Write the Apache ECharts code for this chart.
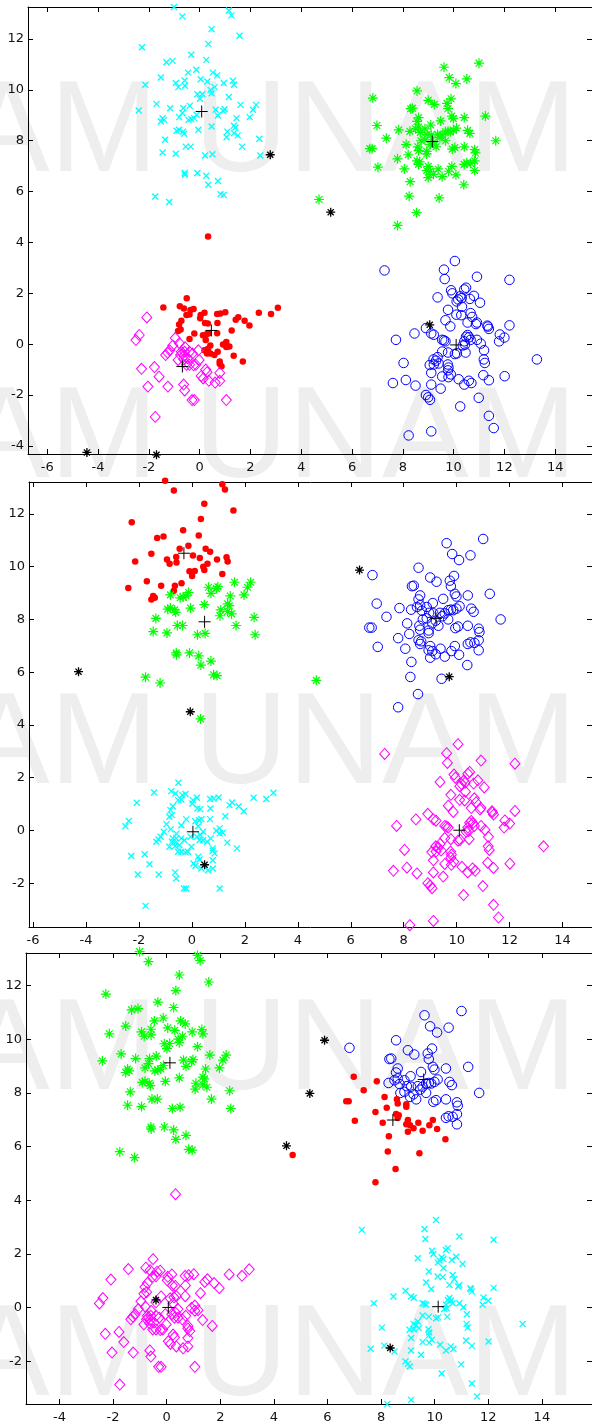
<!DOCTYPE html>
<html><head><meta charset="utf-8">
<script src="https://cdn.jsdelivr.net/npm/echarts@6/dist/echarts.min.js"></script>
<style>html,body{margin:0;padding:0;background:#fff}#c{width:592px;height:1424px}</style>
</head><body><div id="c"></div>
<script>
// ---- data: the same point cloud, grouped into pieces so each panel's clustering can be shown ----
const A_red = [[-1.43,1.44],[-0.51,1.81],[-0.78,1.49],[-0.62,1.40],[-0.36,1.34],[-0.24,1.38],[-0.52,1.15],[-0.40,1.17],[-0.72,0.92],[-0.81,0.77],[-0.75,0.58],[-0.85,0.52],[-0.21,0.42],[-0.40,0.20],[0.04,1.15],[0.19,1.24],[0.02,1.02],[0.32,0.81],[0.21,0.83],[0.69,1.19],[0.82,1.21],[1.01,1.25],[0.70,0.83],[1.42,0.96],[1.52,1.06],[1.77,0.92],[1.96,0.73],[2.33,1.24],[2.81,1.19],[3.08,1.43],[0.69,0.43],[1.26,0.54],[0.13,0.35],[0.27,0.39],[0.36,0.43],[0.24,0.16],[1.05,0.08],[0.92,-0.01],[1.17,-0.09],[1.05,-0.11],[0.42,-0.05],[0.19,-0.24],[0.29,-0.37],[0.42,-0.37],[0.33,-0.18],[0.58,-0.43],[0.71,-0.30],[0.79,-0.68],[0.79,-0.77],[0.86,-0.87],[1.34,-0.46],[1.70,-0.68]];
const A_mag = [[-2.08,1.05],[-2.38,0.36],[-2.51,0.16],[-0.96,0.24],[-1.06,-0.05],[-1.18,-0.24],[-1.26,-0.34],[-1.34,-0.43],[-0.59,-0.30],[-0.72,-0.30],[-0.75,-0.43],[-0.62,-0.46],[-0.40,-0.30],[-0.28,-0.37],[-0.85,-0.62],[-0.63,-0.59],[-0.52,-0.81],[-0.40,-0.81],[-0.24,-0.83],[-0.15,-0.81],[-0.02,-0.62],[-0.05,-0.24],[-2.29,-0.97],[-1.78,-0.90],[-1.60,-1.28],[0.24,-1.00],[0.29,-1.10],[0.06,-1.25],[0.14,-1.35],[0.36,-1.44],[0.61,-1.51],[0.79,-1.44],[-2.04,-1.67],[-1.25,-1.67],[-0.63,-1.59],[-0.59,-1.82],[-0.30,-2.20],[-0.21,-2.20],[1.05,-2.20],[-1.75,-2.86],[0.79,-1.13],[-0.80,0.04],[-0.58,-0.12],[-0.47,-0.55]];
const B_up = [[-1.01,13.26],[-0.68,12.89],[1.15,13.12],[1.25,12.93],[0.47,12.39],[1.57,12.13],[0.34,11.81],[-2.27,11.68],[0.26,11.18],[-0.33,11.38],[-1.31,11.09],[-1.07,11.14],[-2.14,10.20],[-1.53,10.49],[-0.13,10.79],[-0.46,10.68],[0.52,10.68],[0.69,10.57],[-0.94,10.27],[-0.59,10.37],[-0.84,10.11],[-0.58,10.16],[0.04,10.42],[0.30,10.33],[1.31,10.36],[1.35,10.20],[0.95,10.27],[0.59,10.11],[0.43,10.00],[0.47,9.87],[-0.09,9.83],[0.11,9.84],[0.01,9.65],[-2.40,9.19],[-1.70,9.45],[-1.16,9.28],[-0.64,9.28],[-0.68,9.09],[-0.39,9.37],[-1.46,8.89],[-1.40,8.82],[-1.53,8.76],[1.15,9.72]];
const B_low = [[-0.81,8.93],[-0.44,8.82],[-0.33,8.85],[-0.22,8.89],[-0.12,9.02],[0.63,9.22],[0.72,8.99],[0.93,9.17],[0.98,9.24],[1.61,9.41],[1.45,8.89],[1.35,8.59],[1.41,8.52],[1.97,8.93],[2.10,9.22],[2.22,9.41],[0.47,8.56],[-0.05,8.43],[-0.91,8.39],[-0.81,8.43],[-0.65,8.36],[-0.61,8.27],[-1.36,8.04],[1.09,8.36],[1.06,8.14],[1.35,8.30],[1.50,8.21],[2.35,8.08],[1.67,7.77],[-1.46,7.54],[-0.94,7.49],[-0.55,7.77],[-0.35,7.77],[0.21,7.42],[0.50,7.47],[2.39,7.42],[-0.59,6.73],[-0.58,6.66],[-0.09,6.73],[0.26,6.62],[0.72,6.42],[0.34,6.27],[0.82,5.90],[0.95,5.87],[-1.75,5.81],[-1.20,5.59]];
const C_blue = [[11.00,11.05],[9.62,10.89],[9.83,10.48],[10.09,10.25],[10.52,10.43],[8.56,9.96],[6.82,9.68],[9.00,9.59],[9.24,9.43],[9.90,9.65],[9.74,9.47],[9.78,9.26],[8.38,9.28],[8.31,9.26],[8.62,8.91],[8.56,8.76],[9.10,8.62],[9.49,8.78],[9.93,8.97],[9.99,8.87],[10.42,8.91],[11.25,8.97],[8.28,8.37],[8.50,8.47],[8.62,8.54],[8.69,8.33],[8.87,8.47],[8.96,8.25],[8.72,8.00],[8.87,8.04],[9.12,8.23],[9.21,7.95],[9.31,7.76],[9.08,7.85],[9.37,8.25],[9.55,8.23],[9.68,8.35],[9.78,8.37],[9.87,8.35],[9.99,8.41],[10.11,8.50],[10.55,8.41],[10.64,8.29],[9.68,8.00],[9.95,7.67],[10.05,7.73],[10.42,7.76],[10.83,7.65],[10.86,7.52],[10.42,7.07],[10.52,7.13],[10.67,7.11],[10.83,7.21],[10.83,6.83],[11.66,8.00],[9.46,8.12]];
const C_red = [[6.98,8.60],[7.35,8.10],[7.84,8.43],[6.70,7.69],[6.79,7.69],[7.02,6.96],[7.79,7.29],[8.13,7.85],[8.21,7.45],[8.06,6.89],[8.29,6.39],[8.25,5.82],[8.54,5.17],[8.59,7.76],[8.62,7.61],[8.56,7.21],[8.66,7.17],[8.62,7.07],[8.94,7.58],[8.94,7.48],[9.00,6.99],[8.94,6.83],[9.08,6.80],[9.00,6.55],[9.21,6.68],[9.39,6.89],[9.55,6.59],[9.80,6.80],[9.93,6.99],[10.09,6.66],[9.43,5.75],[10.40,6.27],[7.79,4.67]];
const D_all = [[10.05,3.27],[7.28,2.90],[9.62,2.93],[9.65,2.56],[10.92,2.65],[12.20,2.53],[9.90,2.12],[9.95,2.00],[10.42,2.15],[10.49,2.22],[10.26,1.88],[10.32,1.81],[10.80,1.90],[9.37,1.84],[10.18,1.76],[10.12,1.68],[10.64,1.78],[11.04,1.63],[10.33,1.47],[9.78,1.35],[10.11,1.16],[10.30,1.14],[10.67,1.22],[10.73,1.07],[9.68,0.94],[9.87,0.70],[10.55,0.85],[10.88,0.79],[10.92,0.85],[11.33,0.73],[11.39,0.60],[11.35,0.69],[12.20,0.74],[8.91,0.63],[9.12,0.42],[9.22,0.37],[8.46,0.42],[11.82,0.38],[11.79,0.11],[12.00,0.26],[7.73,0.17],[9.55,0.17],[9.68,0.11],[9.62,0.15],[10.49,0.29],[10.61,0.27],[10.55,0.36],[10.42,0.11],[10.45,-0.02],[10.67,0.17],[10.92,0.17],[11.07,0.02],[10.36,-0.05],[11.20,-0.24],[9.55,-0.29],[9.78,-0.33],[10.05,-0.39],[10.13,-0.36],[10.47,-0.33],[9.37,-0.51],[9.21,-0.60],[9.31,-0.65],[9.06,-0.82],[9.22,-0.80],[9.41,-0.76],[9.77,-0.80],[9.80,-0.92],[9.78,-1.03],[11.19,-0.60],[11.23,-0.74],[13.28,-0.60],[8.03,-0.74],[9.12,-1.13],[9.89,-1.19],[9.80,-1.30],[9.55,-1.27],[10.20,-1.38],[10.60,-1.44],[10.70,-1.53],[11.17,-1.22],[11.39,-1.42],[12.01,-1.26],[7.61,-1.53],[8.12,-1.41],[8.50,-1.63],[10.42,-1.59],[9.12,-1.59],[9.49,-1.75],[8.91,-2.00],[9.00,-2.09],[9.07,-2.19],[10.99,-2.11],[10.26,-2.45],[11.39,-2.82],[11.58,-3.30],[9.12,-3.43],[8.23,-3.59]];
const P1 = [[0.33,4.23]];
const P2 = [[4.70,5.69]];

// initial (black *) and final (black +) centroids per panel
const init1 = [[2.78,7.45],[5.16,5.19],[9.06,0.76],[-4.44,-4.26],[-1.70,-4.35]];
const final1 = [[0.08,9.15],[9.16,7.97],[10.10,-0.03],[0.46,0.54],[-0.68,-0.88]];
const init2 = [[-4.28,6.02],[-0.06,4.50],[6.33,9.87],[9.72,5.83],[0.48,-1.30]];
const final2 = [[-0.30,10.51],[0.48,7.91],[9.22,8.04],[10.10,0.01],[0.04,-0.05]];
const init3 = [[-0.40,0.29],[4.47,6.03],[5.34,7.98],[5.89,9.96],[8.34,-1.50]];
const final3 = [[0.12,9.12],[9.59,8.50],[8.44,6.99],[0.06,0.01],[10.13,0.04]];

// axis limits per panel
const xLim = [[-6.76,15.45],[-6.15,15.11],[-5.25,15.87]];
const yLim = [[-4.32,13.26],[-3.66,13.21],[-3.585,13.21]];
const watermarkText = 'AM UNAM';

// ---- styles ----
const MK = {
  dot:    {symbol:'circle', size:6.5, fill:true},
  circle: {symbol:'circle', size:9.5},
  diamond:{symbol:'diamond', size:[10,11]},
  x:      {symbol:'path://M0,0L10,10M10,0L0,10', size:6},
  star:   {symbol:'path://M5,0L5,10M0,5L10,5M1.6,1.6L8.4,8.4M8.4,1.6L1.6,8.4', size:10},
  bstar:  {symbol:'path://M5,0L5,10M0,5L10,5M1.6,1.6L8.4,8.4M8.4,1.6L1.6,8.4', size:9},
  plus:   {symbol:'path://M5,0L5,10M0,5L10,5', size:12}
};
const COL = {r:'#ff0000', g:'#00ff00', b:'#0000ff', c:'#00ffff', m:'#ff00ff', k:'#000000'};

function ser(gi, data, mk, color, bw) {
  const m = MK[mk];
  return {
    type:'scatter', xAxisIndex: gi*2, yAxisIndex: gi*2, data: data,
    symbol: m.symbol, symbolSize: m.size, clip:false, silent:true,
    itemStyle: m.fill ? {color: color, opacity:1} : {color:'transparent', borderColor: color, borderWidth: bw || 1, opacity:1},
    emphasis:{disabled:true}
  };
}

const grids = [
  {left:28, top:7, width:565, height:447},
  {left:29, top:482, width:564, height:445},
  {left:26, top:953, width:567, height:451}
];
const lab = {fontSize:13, fontFamily:'DejaVu Sans', color:'#111'};
const xAxes = [], yAxes = [];
grids.forEach((g, i) => {
  const common = {gridIndex:i, type:'value', scale:true, splitLine:{show:false},
    axisLine:{onZero:false, lineStyle:{color:'#000', width:1}},
    axisTick:{inside:true, length:5, lineStyle:{color:'#000', width:1}}};
  xAxes.push(Object.assign({}, common, {position:'bottom', min:xLim[i][0], max:xLim[i][1], splitNumber:10,
    axisLabel:Object.assign({margin:7, showMinLabel:false, showMaxLabel:false}, lab)}));
  xAxes.push(Object.assign({}, common, {position:'top', min:xLim[i][0], max:xLim[i][1], splitNumber:10, axisLabel:{show:false}}));
  yAxes.push(Object.assign({}, common, {position:'left', min:yLim[i][0], max:yLim[i][1], splitNumber:9,
    axisLabel:Object.assign({margin:4, showMinLabel:false, showMaxLabel:false}, lab)}));
  yAxes.push(Object.assign({}, common, {position:'right', min:yLim[i][0], max:yLim[i][1], splitNumber:9, axisLabel:{show:false}}));
});

const series = [
  // panel 1
  ser(0, B_up.concat(B_low), 'x', COL.c, 1.3),
  ser(0, C_blue.concat(C_red, P2), 'star', COL.g, 1.2),
  ser(0, D_all, 'circle', COL.b, 1),
  ser(0, A_red.concat(P1), 'dot', COL.r),
  ser(0, A_mag, 'diamond', COL.m, 1),
  ser(0, final1, 'plus', COL.k, 1),
  ser(0, init1, 'bstar', COL.k, 1.3),
  // panel 2
  ser(1, B_up, 'dot', COL.r),
  ser(1, B_low.concat(P1, P2), 'star', COL.g, 1.2),
  ser(1, C_blue.concat(C_red), 'circle', COL.b, 1),
  ser(1, D_all, 'diamond', COL.m, 1),
  ser(1, A_red.concat(A_mag), 'x', COL.c, 1.3),
  ser(1, final2, 'plus', COL.k, 1),
  ser(1, init2, 'bstar', COL.k, 1.3),
  // panel 3
  ser(2, B_up.concat(B_low), 'star', COL.g, 1.2),
  ser(2, C_blue, 'circle', COL.b, 1),
  ser(2, C_red.concat(P2), 'dot', COL.r),
  ser(2, A_red.concat(A_mag, P1), 'diamond', COL.m, 1),
  ser(2, D_all, 'x', COL.c, 1.3),
  ser(2, final3, 'plus', COL.k, 1),
  ser(2, init3, 'bstar', COL.k, 1.3)
];

const rows = [135, 441, 747, 1053, 1359];
const graphic = rows.map(y => ({
  type:'text', x:-37, y:y, z:-1, silent:true,
  style:{text: watermarkText, fill:'#eeeeee', font:'130px "Liberation Sans"', verticalAlign:'middle', align:'left'}
}));

const chart = echarts.init(document.getElementById('c'), null, {renderer:'canvas'});
chart.setOption({
  animation:false, backgroundColor:'#ffffff',
  graphic: graphic,
  grid: grids, xAxis: xAxes, yAxis: yAxes, series: series
});
</script>
</body></html>
